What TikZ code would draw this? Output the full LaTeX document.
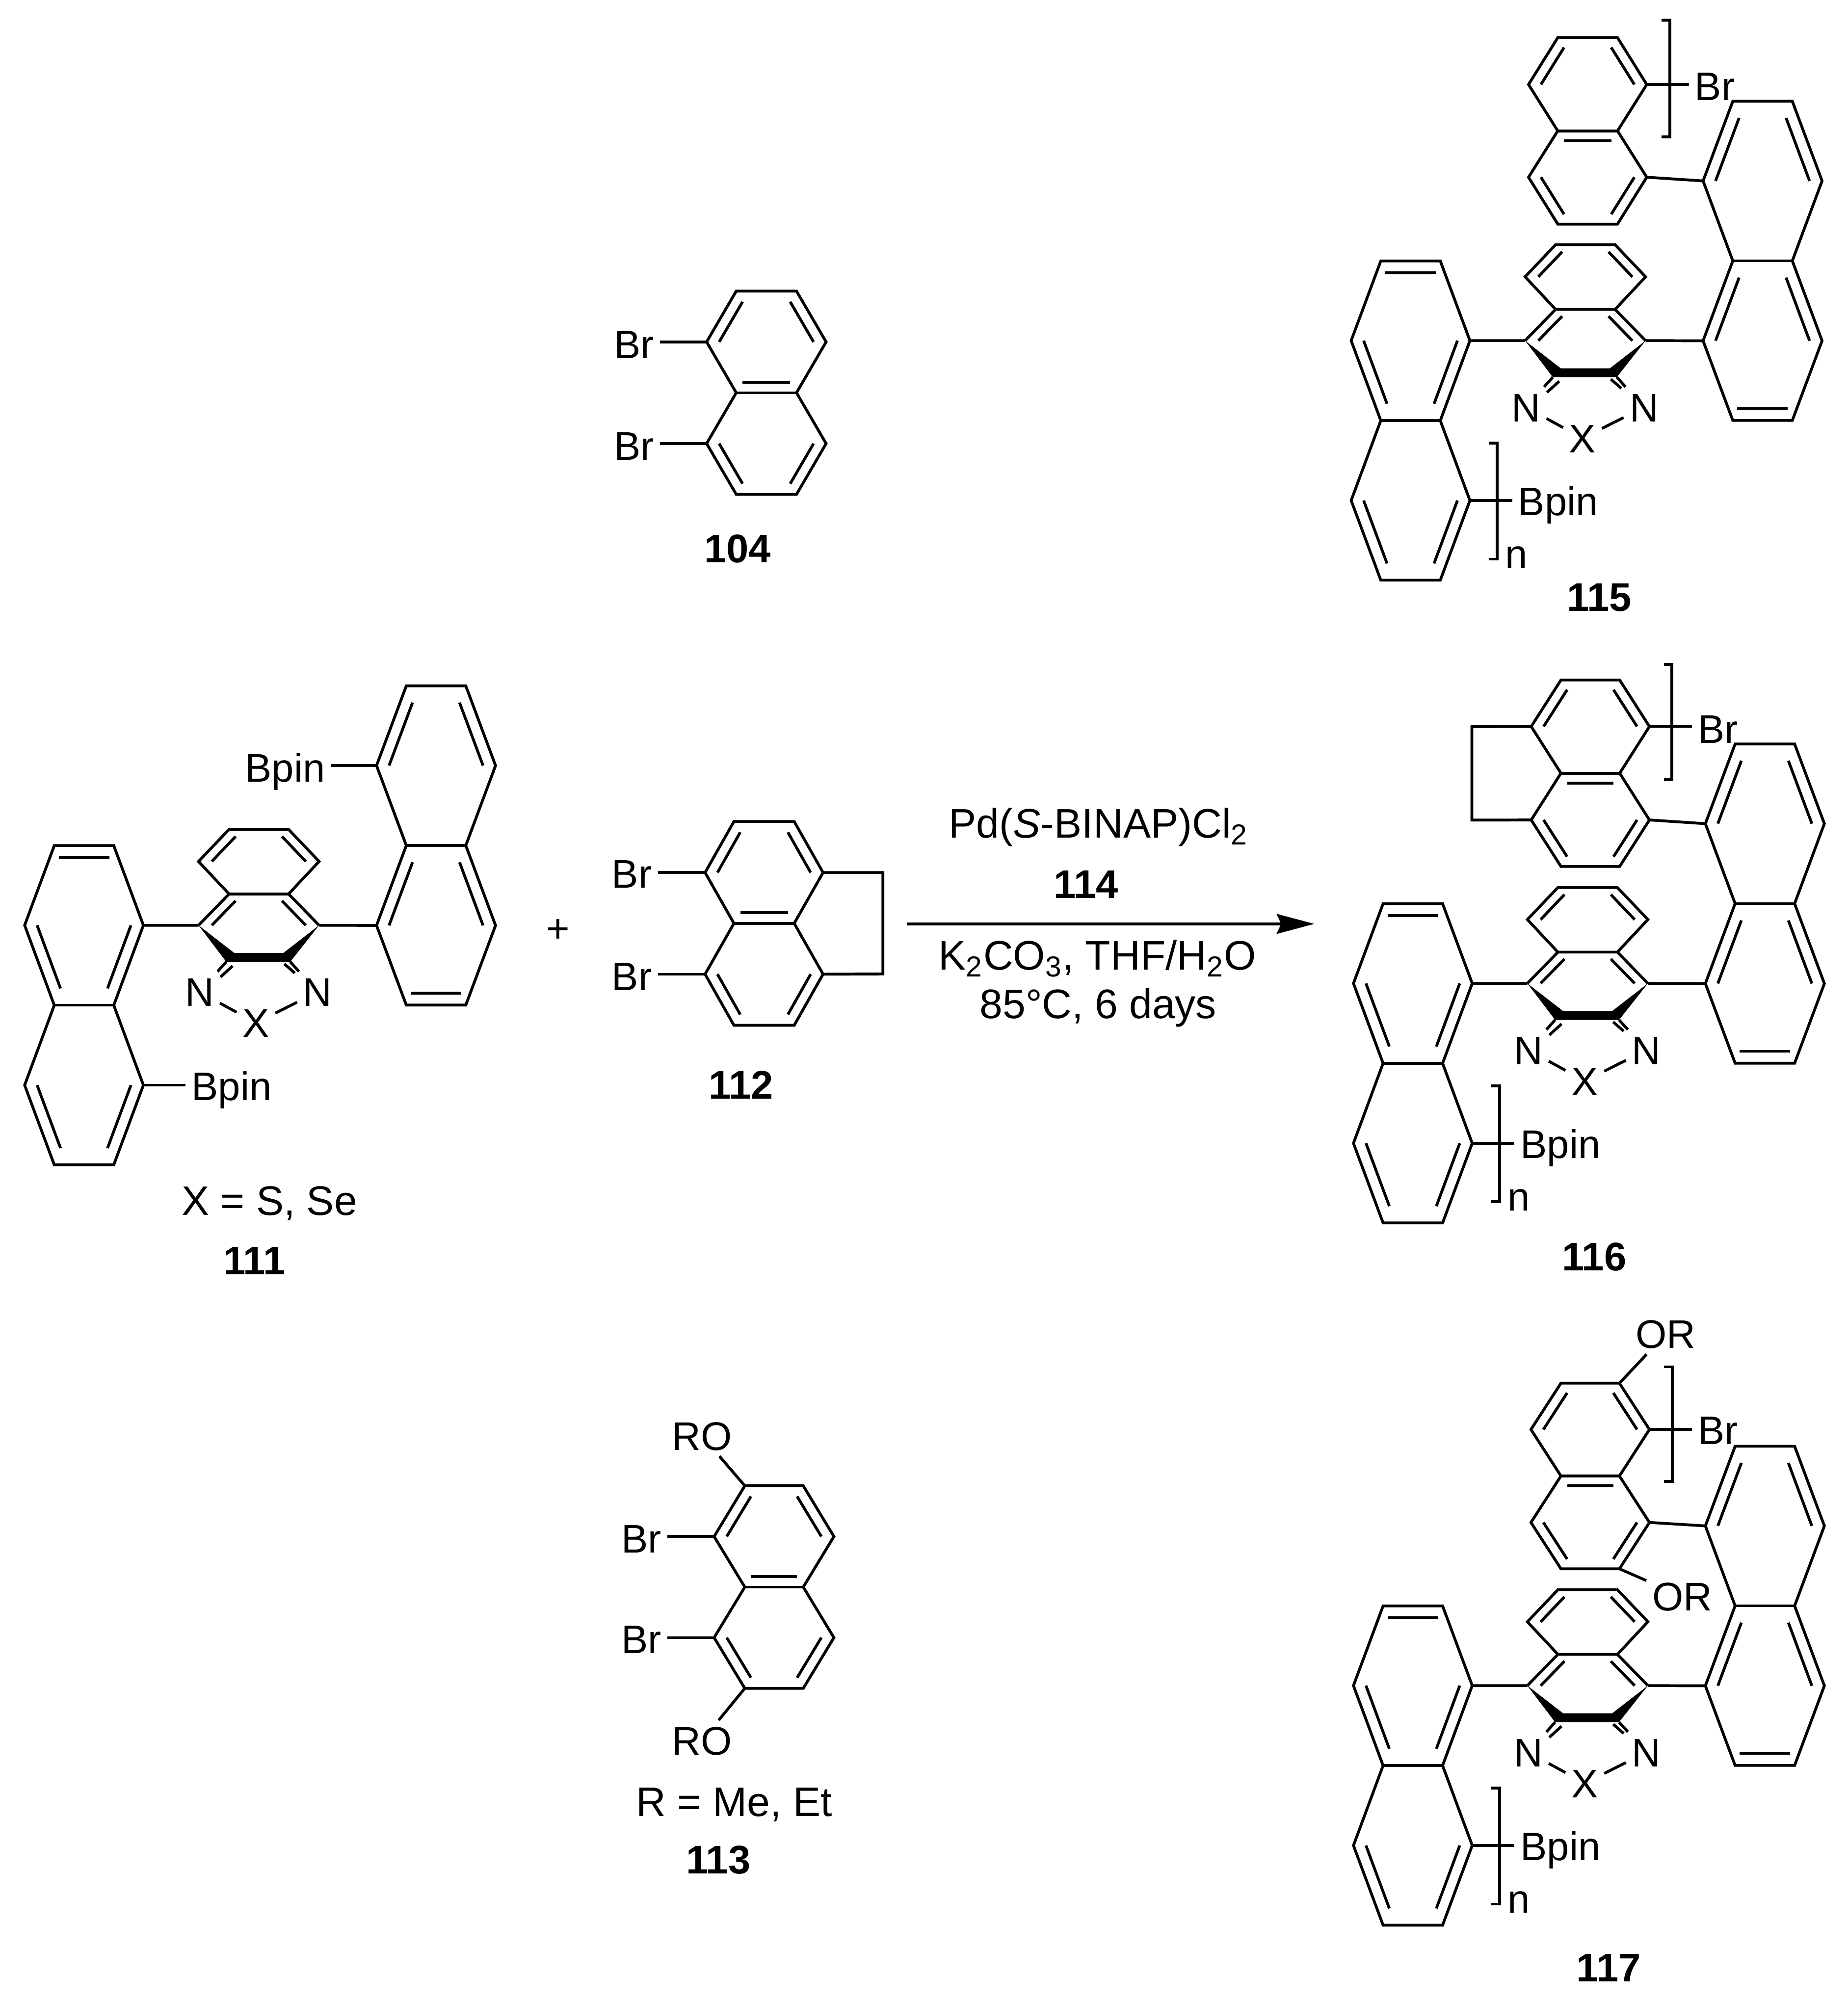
\documentclass[tikz,border=0pt]{standalone}
\usepackage{fontspec}
\setmainfont{Liberation Sans}
\usepackage{tikz}
\usetikzlibrary{calc,arrows.meta}

\newcommand{\fsz}{\fontsize{17.8}{20}\selectfont}

% two stacked rings: name, centre x, y, outer half width, edge half width, side height, top height
\newcommand{\naphth}[7]{
    \begin{scope}[shift={(#2,#3)}]
      \coordinate (#1tl) at (-#5,-#7);
      \coordinate (#1tr) at (#5,-#7);
      \coordinate (#1l1) at (-#4,-#6);
      \coordinate (#1r1) at (#4,-#6);
      \coordinate (#1ml) at (-#5,0);
      \coordinate (#1mr) at (#5,0);
      \coordinate (#1l2) at (-#4,#6);
      \coordinate (#1r2) at (#4,#6);
      \coordinate (#1bl) at (-#5,#7);
      \coordinate (#1br) at (#5,#7);
      \coordinate (#1cu) at (0,-#6);
      \coordinate (#1cd) at (0,#6);
    \end{scope}
    \draw[bond] (#1tl) -- (#1tr) -- (#1r1) -- (#1mr) -- (#1r2) -- (#1br) -- (#1bl) -- (#1l2) -- (#1ml) -- (#1l1) -- cycle;
    \draw[bond] (#1ml) -- (#1mr);
}
% inner line of a double bond, pulled towards a ring centre
\newcommand{\dbl}[5][.21]{
    \draw[bond] ($(#2#3)!#1!(#2c#5)$) -- ($(#2#4)!#1!(#2c#5)$);
}
\newcommand{\sqbrack}[4]{
    \draw[bond] (#1,#3) -- (#2,#3) -- (#2,#4) -- (#1,#4);
}
% the doubles pattern used on all the small naphthalenes
\newcommand{\dblset}[2]{
    \dbl{#1}{tl}{l1}{u}
    \dbl{#1}{tr}{r1}{u}
    \dbl{#1}{ml}{mr}{#2}
    \dbl{#1}{l2}{bl}{d}
    \dbl{#1}{r2}{br}{d}
}
% central unit with its two side naphthalenes
\newcommand{\coreunit}[3]{
    \begin{scope}[shift={(#2,#3)}]
      \coordinate (#1a) at (-23.3,-50.6);
      \coordinate (#1b) at (23.3,-50.6);
      \coordinate (#1c) at (-47.2,-25.5);
      \coordinate (#1d) at (47.2,-25.5);
      \coordinate (#1e) at (-23.3,0);
      \coordinate (#1f) at (23.3,0);
      \coordinate (#1g) at (-47.2,24.5);
      \coordinate (#1h) at (47.2,24.5);
      \coordinate (#1cu) at (0,-25.5);
      \coordinate (#1cd) at (0,24.5);
      \coordinate (#1wl) at (-19.2,46.2);
      \coordinate (#1wr) at (19.2,46.2);
      \coordinate (#1vl) at (-25.5,53.1);
      \coordinate (#1vr) at (24.6,53.1);
      \coordinate (#1il) at (-20.5,56.3);
      \coordinate (#1jl) at (-30,65);
      \coordinate (#1ir) at (20,54.7);
      \coordinate (#1jr) at (28.2,61.9);
      \node[atom] (#1n1) at (-46.5,76.7) {N};
      \node[atom] (#1n2) at (46,76.7) {N};
      \node[atom] (#1x) at (-2.2,100.9) {X};
      \naphth{#1L}{-136.9}{87.1}{46.5}{23.3}{62.6}{125}
      \naphth{#1R}{138.8}{-38}{46.6}{23.3}{62.6}{125}
      \node[atom,anchor=base west] (#1bpin) at (-57.3,161.5) {Bpin};
    \end{scope}
    \draw[bond] (#1a) -- (#1b) -- (#1d) -- (#1f) -- (#1e) -- (#1c) -- cycle;
    \draw[bond] (#1e) -- (#1g) (#1f) -- (#1h);
    \dbl[.22]{#1}{a}{c}{u}
    \dbl[.22]{#1}{b}{d}{u}
    \dbl[.22]{#1}{e}{g}{d}
    \dbl[.22]{#1}{f}{h}{d}
    \fill (#1g) -- (#1wl) -- (#1wr) -- (#1h) -- (#1vr) -- (#1vl) -- cycle;
    \draw[bond] (#1vl) -- (#1n1) (#1vr) -- (#1n2);
    \draw[bond] (#1il) -- (#1jl) (#1ir) -- (#1jr);
    \draw[bond] (#1n1) -- (#1x) (#1n2) -- (#1x);
    \draw[bond] (#1Lr1) -- (#1g) (#1h) -- (#1Rl2);
    \draw[bond] (#1Lr2) -- (#1Lr2 -| #1bpin.west);
    \dbl[.15]{#1L}{tl}{tr}{u}
    \dbl{#1L}{l1}{ml}{u}
    \dbl{#1L}{r1}{mr}{u}
    \dbl{#1L}{l2}{bl}{d}
    \dbl{#1L}{r2}{br}{d}
    \dbl{#1R}{tl}{l1}{u}
    \dbl{#1R}{tr}{r1}{u}
    \dbl{#1R}{ml}{l2}{d}
    \dbl{#1R}{mr}{r2}{d}
    \dbl[.15]{#1R}{bl}{br}{d}
}
% bracket and repeat count of the polymers
\newcommand{\polyend}[3]{
    \begin{scope}[shift={(#2,#3)}]
      \sqbrack{-75.8}{-69}{104.8}{195.6}
      \node[atom,anchor=base west] (#1cnt) at (-67.5,202.6) {n};
    \end{scope}
}

\begin{document}
\begin{tikzpicture}[x=.02cm,y=-.02cm,
    every node/.style={font=\fsz},
    bond/.style={line width=1.25pt,line join=miter},
    atom/.style={inner sep=2.5pt,text height=12.8pt,text depth=0pt},
    cmpd/.style={font=\fsz\bfseries,inner sep=0pt,anchor=base},
    note/.style={inner sep=0pt,anchor=base},
    cond/.style={font=\fontsize{18.4}{20}\selectfont,inner sep=0pt,anchor=base}]
    \useasboundingbox (0,0) rectangle (1447,1568);

    % 104
    \naphth{m104}{600.2}{307.6}{46.8}{23.6}{39.8}{79.6}
    \dblset{m104}{u}
    \node[atom,anchor=base east] (br104a) at (516.8,280.7) {Br};
    \node[atom,anchor=base east] (br104b) at (516.8,360.1) {Br};
    \draw[bond] (m104l1) -- (m104l1 -| br104a.east);
    \draw[bond] (m104l2) -- (m104l2 -| br104b.east);
    \node[cmpd] (lab104) at (577.7,440.6) {104};

    % 111
    \coreunit{m111}{202.7}{700.2}
    \node[atom,anchor=base east] (bpin111) at (259.3,612.5) {Bpin};
    \draw[bond] (m111Rl1) -- (m111Rl1 -| bpin111.east);
    \node[cond] (xdef) at (211,951.9) {X = S, Se};
    \node[cmpd] (lab111) at (199.3,998.1) {111};

    \node[note] (plus) at (437,738) {+};

    % 112
    \naphth{m112}{598.4}{723.2}{46.2}{23.6}{39.8}{79.8}
    \dblset{m112}{u}
    \coordinate (m112e1) at (691.5,683.4);
    \coordinate (m112e2) at (691.5,762.8);
    \draw[bond] (m112r1) -- (m112e1) -- (m112e2) -- (m112r2);
    \node[atom,anchor=base east] (br112a) at (515.2,695.4) {Br};
    \node[atom,anchor=base east] (br112b) at (515.2,775.6) {Br};
    \draw[bond] (m112l1) -- (m112l1 -| br112a.east);
    \draw[bond] (m112l2) -- (m112l2 -| br112b.east);
    \node[cmpd] (lab112) at (580.3,860.7) {112};

    % 113
    \naphth{m113}{606.2}{1243}{46.9}{22.9}{39.6}{79.3}
    \dblset{m113}{u}
    \node[atom,anchor=base east] (br113a) at (522.7,1216) {Br};
    \node[atom,anchor=base east] (br113b) at (522.7,1295.1) {Br};
    \node[atom,anchor=base west] (ro113a) at (521.6,1135.8) {RO};
    \node[atom,anchor=base west] (ro113b) at (521.6,1374.5) {RO};
    \draw[bond] (m113l1) -- (m113l1 -| br113a.east);
    \draw[bond] (m113l2) -- (m113l2 -| br113b.east);
    \draw[bond] (m113tl) -- (ro113a);
    \draw[bond] (m113bl) -- (ro113b);
    \node[cond] (rdef) at (575,1422.7) {R = Me, Et};
    \node[cmpd] (lab113) at (562.5,1467.3) {113};

    % arrow and conditions
    \coordinate (rxnstart) at (710.3,723.6);
    \coordinate (rxnend) at (1029.4,723.6);
    \draw[line width=1.25pt,-{Stealth[length=.59cm,width=.31cm,inset=.07cm]}] (rxnstart) -- (rxnend);
    \node[cond] (cat) at (860.4,656.2) {Pd(\textit{S}-BINAP)Cl\textsubscript{2}};
    \node[cmpd] (lab114) at (850.6,703.3) {114};
    \node[cond] (cond1) at (859.5,759.7) {K\textsubscript{2}CO\textsubscript{3}, THF/H\textsubscript{2}O};
    \node[cond] (cond2) at (860,797.7) {85°C, 6 days};

    % 115
    \coreunit{m115}{1241.6}{242.3}
    \polyend{m115}{1241.6}{242.3}
    \naphth{m115T}{1243.4}{102.5}{46.3}{23.4}{36.3}{73}
    \dblset{m115T}{d}
    \draw[bond] (m115Tr2) -- (m115Rl1);
    \sqbrack{1301.3}{1307.9}{15.7}{107.2}
    \node[atom,anchor=base west] (br115) at (1322.6,78.6) {Br};
    \draw[bond] (m115Tr1) -- (m115Tr1 -| br115.west);
    \node[cmpd] (lab115) at (1252.6,478.7) {115};

    % 116
    \coreunit{m116}{1243.4}{745.7}
    \polyend{m116}{1243.4}{745.7}
    \naphth{m116T}{1245.5}{605.6}{46.3}{23}{36.6}{73}
    \dblset{m116T}{d}
    \coordinate (m116e1) at (1152.7,569.2);
    \coordinate (m116e2) at (1152.7,642.3);
    \draw[bond] (m116Tl1) -- (m116e1) -- (m116e2) -- (m116Tl2);
    \draw[bond] (m116Tr2) -- (m116Rl1);
    \sqbrack{1303.3}{1309.3}{520.3}{610.7}
    \node[atom,anchor=base west] (br116) at (1325,582) {Br};
    \draw[bond] (m116Tr1) -- (m116Tr1 -| br116.west);
    \node[cmpd] (lab116) at (1248.5,995) {116};

    % 117
    \coreunit{m117}{1243.4}{1295.7}
    \polyend{m117}{1243.4}{1295.7}
    \naphth{m117T}{1245.4}{1156}{46.4}{22.9}{36.4}{72.7}
    \dblset{m117T}{d}
    \draw[bond] (m117Tr2) -- (m117Rl1);
    \sqbrack{1303.3}{1309.6}{1070.5}{1160.3}
    \node[atom,anchor=base west] (br117) at (1325,1131.3) {Br};
    \draw[bond] (m117Tr1) -- (m117Tr1 -| br117.west);
    \node[atom,anchor=base west] (ro117a) at (1276.4,1056) {OR};
    \node[atom,anchor=base west] (ro117b) at (1289.3,1261.4) {OR};
    \draw[bond] (m117Ttr) -- (ro117a);
    \draw[bond] (m117Tbr) -- (ro117b);
    \node[cmpd] (lab117) at (1260,1552.1) {117};
\end{tikzpicture}
\end{document}
